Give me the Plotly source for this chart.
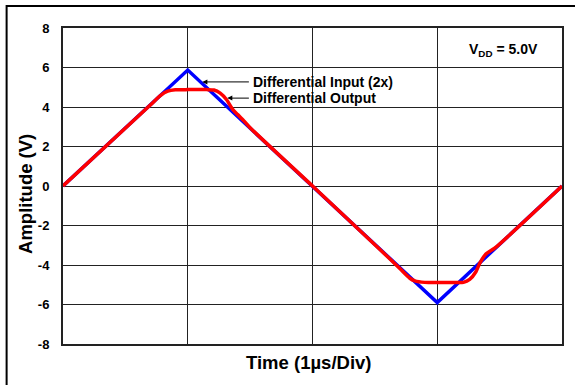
import plotly.graph_objects as go

# Time in divisions (1 µs/Div)
input_x = [0, 1, 3, 4]
input_y = [0, 5.87, -5.9, 0]

output_x = [0, 0.70, 0.78, 0.84, 0.90, 1.0, 1.15, 1.21, 1.26, 1.31, 1.36, 1.40, 1.45, 1.5,
            2.0, 2.53, 2.70, 2.78, 2.82, 2.90, 3.0, 3.15, 3.21, 3.26, 3.31, 3.34, 3.39, 3.46, 4.0]
output_y = [0, 4.10, 4.58, 4.80, 4.87, 4.88, 4.88, 4.86, 4.70, 4.38, 3.88, 3.62, 3.30, 2.95,
            0.0, -3.15, -4.18, -4.67, -4.80, -4.88, -4.89, -4.89, -4.88, -4.73, -4.34, -3.92, -3.44, -3.15, 0]

y_ticks = [-8, -6, -4, -2, 0, 2, 4, 6, 8]
x_grid = [0, 1, 2, 3, 4]

FONT = "Arial, Liberation Sans, sans-serif"

fig = go.Figure()
fig.add_trace(go.Scatter(x=input_x, y=input_y, mode="lines",
                         line=dict(color="#0000FF", width=3.5), name="Differential Input (2x)"))
fig.add_trace(go.Scatter(x=output_x, y=output_y, mode="lines",
                         line=dict(color="#FF0000", width=3.5, shape="spline", smoothing=0.6),
                         name="Differential Output"))

fig.update_layout(
    width=575, height=385,
    margin=dict(l=63, r=11, t=28, b=41),
    paper_bgcolor="white", plot_bgcolor="white",
    showlegend=False,
    font=dict(family=FONT, color="black"),
)
fig.update_xaxes(range=[0, 4], tickvals=x_grid, showticklabels=False,
                 showgrid=True, gridcolor="#222", gridwidth=1,
                 showline=True, linecolor="#222", linewidth=2, mirror=True,
                 zeroline=False, ticks="")
fig.update_yaxes(range=[-8, 8], tickvals=y_ticks, ticktext=[str(v) for v in y_ticks],
                 tickfont=dict(family=FONT, size=13, weight="bold", color="black"),
                 ticklabelstandoff=9,
                 showgrid=True, gridcolor="#222", gridwidth=1,
                 showline=True, linecolor="#222", linewidth=2, mirror=True,
                 zeroline=False, ticks="")

# axis titles
fig.add_annotation(text="Amplitude (V)", xref="paper", yref="paper", x=-0.074, y=0.475,
                   textangle=-90, showarrow=False, xanchor="center", yanchor="middle",
                   font=dict(family=FONT, size=18.5, weight="bold"))
fig.add_annotation(text="Time (1µs/Div)", xref="paper", yref="paper", x=0.492, y=-0.057,
                   showarrow=False, xanchor="center", yanchor="middle",
                   font=dict(family=FONT, size=18.5, weight="bold"))

# labels
fig.add_annotation(text="V<sub>DD</sub> = 5.0V", xref="paper", yref="paper", x=0.81, y=0.93,
                   showarrow=False, xanchor="left", yanchor="middle",
                   font=dict(family=FONT, size=14, weight="bold"))
# labelled arrows (arrow tail sits at the text's left edge)
fig.add_annotation(text="Differential Input (2x)", x=1.117, y=5.27, ax=1.49, ay=5.27,
                   axref="x", ayref="y", xanchor="left", yanchor="middle", borderpad=3,
                   showarrow=True, arrowhead=2, arrowsize=1, arrowwidth=1, arrowcolor="black",
                   font=dict(family=FONT, size=14, weight="bold"))
fig.add_annotation(text="Differential Output", x=1.317, y=4.45, ax=1.49, ay=4.45,
                   axref="x", ayref="y", xanchor="left", yanchor="middle", borderpad=3,
                   showarrow=True, arrowhead=2, arrowsize=1, arrowwidth=1, arrowcolor="black",
                   font=dict(family=FONT, size=14, weight="bold"))

# outer frame
fig.add_shape(type="rect", xref="paper", yref="paper", x0=-0.113, y0=-0.3, x1=1.2, y1=1.07,
              line=dict(color="black", width=2), fillcolor="rgba(0,0,0,0)", layer="above")

fig.write_html("out.html", config={"displayModeBar": False},
               post_script="document.body.style.margin='0';")
